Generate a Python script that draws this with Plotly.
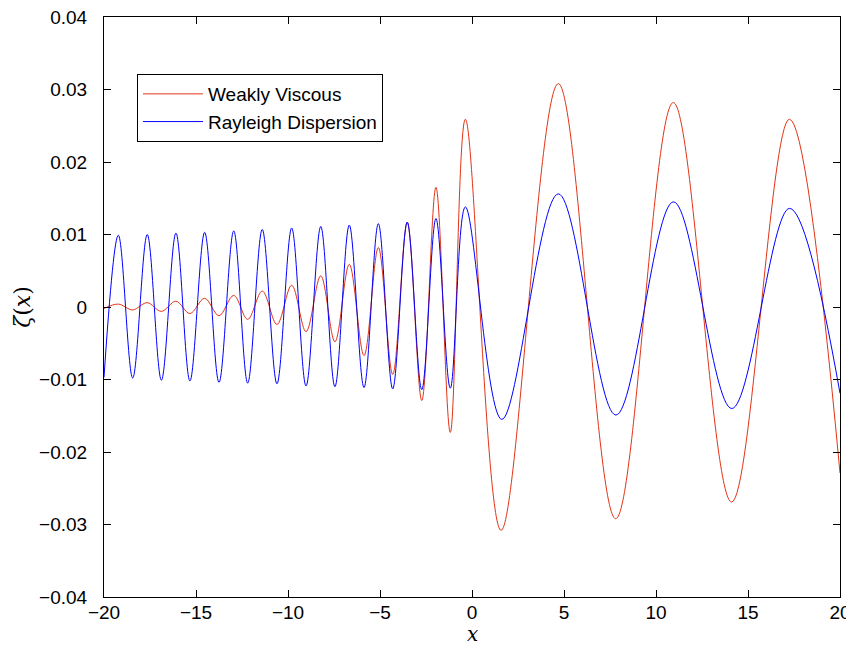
import plotly.graph_objects as go

# axis setup
x_range = [-20, 20]
y_range = [-0.04, 0.04]
x_ticks = [-20, -15, -10, -5, 0, 5, 10, 15, 20]
x_tick_labels = ["−20", "−15", "−10", "−5", "0", "5", "10", "15", "20"]
y_ticks = [-0.04, -0.03, -0.02, -0.01, 0, 0.01, 0.02, 0.03, 0.04]
y_tick_labels = ["−0.04", "−0.03", "−0.02", "−0.01", "0", "0.01", "0.02", "0.03", "0.04"]

# Weakly Viscous: successive extrema (plus end points)
viscous_x = [-20.0, -19.22, -18.44, -17.65, -16.88, -16.09, -15.33, -14.53, -13.75,
             -12.95, -12.19, -11.40, -10.60, -9.80, -9.02, -8.22, -7.45, -6.67,
             -5.87, -5.09, -4.31, -3.52, -2.73, -1.96, -1.18, -0.36, 1.58, 4.69,
             7.81, 10.94, 14.11, 17.25, 20.0]
viscous_y = [-0.0002, 0.0004, -0.0004, 0.0006, -0.0006, 0.0008, -0.0009, 0.0012, -0.0012,
             0.0016, -0.0017, 0.0022, -0.0024, 0.0030, -0.0034, 0.0043, -0.0048, 0.0059,
             -0.0067, 0.0082, -0.0093, 0.0117, -0.0129, 0.0165, -0.0173, 0.0259, -0.0308, 0.0308,
             -0.0292, 0.0282, -0.0269, 0.0259, -0.0229]

# Rayleigh Dispersion: successive extrema (plus end points)
rayleigh_x = [-20.0, -19.22, -18.44, -17.65, -16.88, -16.09, -15.33, -14.53, -13.75,
              -12.95, -12.19, -11.40, -10.60, -9.80, -9.02, -8.22, -7.45, -6.67,
              -5.87, -5.09, -4.31, -3.52, -2.73, -1.96, -1.18, -0.36, 1.62, 4.69,
              7.82, 10.95, 14.12, 17.26, 20.0]
rayleigh_y = [-0.0097, 0.0099, -0.0098, 0.0100, -0.0101, 0.0102, -0.0102, 0.0103, -0.0104,
              0.0105, -0.0105, 0.0107, -0.0106, 0.0109, -0.0109, 0.0111, -0.0110, 0.0113,
              -0.0111, 0.0115, -0.0113, 0.0117, -0.0114, 0.0122, -0.0112, 0.0138, -0.0155, 0.0156,
              -0.0149, 0.0145, -0.0140, 0.0136, -0.0119]

RED = "rgb(226,52,22)"
BLUE = "rgb(0,0,255)"

fig = go.Figure()
fig.add_trace(go.Scatter(
    x=viscous_x, y=viscous_y, mode="lines", name="Weakly Viscous",
    line=dict(color=RED, width=1, shape="spline", smoothing=1.0),
))
fig.add_trace(go.Scatter(
    x=rayleigh_x, y=rayleigh_y, mode="lines", name="Rayleigh Dispersion",
    line=dict(color=BLUE, width=1, shape="spline", smoothing=1.0),
))

tick_font = dict(family="Liberation Sans, Arial, sans-serif", size=19, color="black")
axis_common = dict(
    showline=True, linecolor="black", linewidth=1, mirror="ticks",
    ticks="inside", ticklen=7, tickwidth=1, tickcolor="black",
    showgrid=False, zeroline=False, tickfont=tick_font, automargin=False,
    ticklabeloverflow="allow",
)
title_font = dict(family="DejaVu Serif, serif", size=22, color="black")

# the page body adds an 8px offset, so the figure is sized to fit the window
fig.update_layout(
    width=846, height=639,
    margin=dict(l=96, r=14, t=9, b=50),
    paper_bgcolor="white", plot_bgcolor="white",
    xaxis=dict(range=x_range, tickvals=x_ticks, ticktext=x_tick_labels,
               ticklabelstandoff=-2, **axis_common),
    yaxis=dict(range=y_range, tickvals=y_ticks, ticktext=y_tick_labels,
               ticklabelstandoff=12,
               title=dict(text="<i>ζ</i>(<i>x</i>)", standoff=2, font=title_font),
               **axis_common),
    legend=dict(
        x=0.0448, y=0.9017, xanchor="left", yanchor="top",
        bgcolor="white", bordercolor="black", borderwidth=1,
        font=dict(family="Liberation Sans, Arial, sans-serif", size=19, color="black"),
        itemwidth=60,
    ),
    annotations=[dict(
        text="<i>x</i>", xref="paper", yref="paper", x=0.5, y=-0.0862,
        xanchor="center", yanchor="bottom", showarrow=False, borderpad=0,
        font=dict(family="DejaVu Serif, serif", size=20, color="black"),
    )],
    showlegend=True,
)

fig.write_html("out.html")
